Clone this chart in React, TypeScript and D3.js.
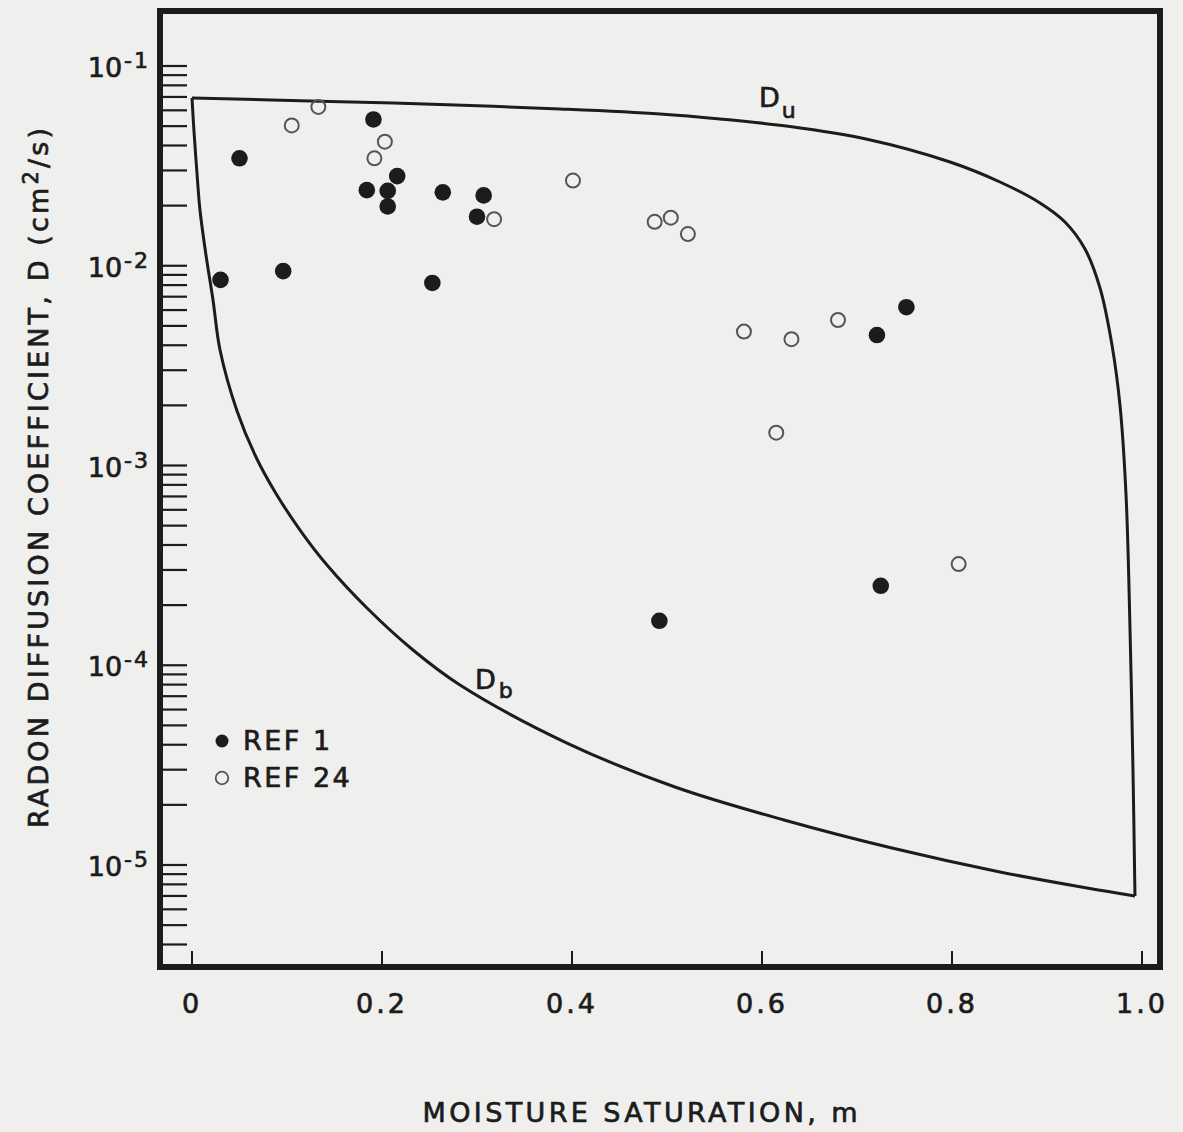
import React from "react";
import * as d3 from "d3";

// REF 1 (filled circles)
const ref1M = [0.050, 0.030, 0.096, 0.191, 0.216, 0.184, 0.206, 0.206, 0.264, 0.253, 0.307, 0.300, 0.752, 0.721, 0.725, 0.492];
const ref1D = [0.0345, 0.0085, 0.0094, 0.054, 0.0281, 0.0239, 0.0237, 0.0198, 0.0233, 0.0082, 0.0225, 0.0176, 0.0062, 0.0045, 0.00025, 0.000167];

// REF 24 (open circles)
const ref24M = [0.105, 0.133, 0.203, 0.192, 0.318, 0.401, 0.487, 0.504, 0.522, 0.581, 0.631, 0.680, 0.615, 0.807];
const ref24D = [0.0504, 0.0624, 0.0418, 0.0345, 0.0171, 0.0267, 0.0166, 0.0174, 0.0144, 0.00468, 0.00429, 0.00535, 0.00146, 0.000321];

// Upper bound curve Du
const duM = [0, 0.1453, 0.2611, 0.3874, 0.4926, 0.5558, 0.6295, 0.7095, 0.7979, 0.8505, 0.8926, 0.9189, 0.9400, 0.9558, 0.9684, 0.9768, 0.9832, 0.9874, 0.9905, 0.9926];
const duD = [0.0692, 0.06645, 0.06419, 0.06091, 0.05751, 0.05430, 0.04979, 0.04310, 0.03307, 0.02626, 0.02062, 0.01656, 0.01213, 0.007736, 0.004012, 0.002009, 0.0007116, 0.0001502, 0.0000299, 0.000006997];

// Lower bound curve Db
const dbM = [0, 0.002, 0.005, 0.0084, 0.0147, 0.0221, 0.0295, 0.0474, 0.0663, 0.0874, 0.1137, 0.1421, 0.1842, 0.2326, 0.2821, 0.3947, 0.5084, 0.6232, 0.7368, 0.8505, 0.9421, 0.9926];
const dbD = [0.0692, 0.04781, 0.03015, 0.01901, 0.01132, 0.00674, 0.003786, 0.001874, 0.001129, 0.000737, 0.0004754, 0.0003176, 0.0001934, 0.0001192, 0.00007962, 0.0000408, 0.00002458, 0.0000168, 0.00001216, 0.000009226, 0.000007673, 0.000006997];

const xTicks = [0, 0.2, 0.4, 0.6, 0.8, 1.0];
const xTickLabels = ["0", "0.2", "0.4", "0.6", "0.8", "1.0"];
const yDecadeExponents = [-1, -2, -3, -4, -5];
const legendLabels = ["REF 1", "REF 24"];

const W = 1183;
const H = 1132;
const frame = { left: 160, right: 1160, top: 11, bottom: 967 };
const FONT = "'DejaVu Sans', 'Liberation Sans', sans-serif";
const INK = "#1c1c1c";
const TXT = { fill: INK, stroke: INK, strokeWidth: 0.7 };

export default function App() {
  const x = d3.scaleLinear().domain([0, 1]).range([192, 1142]);
  const y = d3.scaleLog().domain([1e-1, 1e-5]).range([66, 865]);

  const yMinorTicks: number[] = [];
  for (let k = -6; k <= -1; k++) {
    for (let j = 1; j <= 9; j++) {
      const v = j * Math.pow(10, k);
      const py = y(v);
      if (py > frame.top + 4 && py < frame.bottom - 3) yMinorTicks.push(v);
    }
  }

  const line = d3
    .line<[number, number]>()
    .x((d) => x(d[0]))
    .y((d) => y(d[1]))
    .curve(d3.curveCatmullRom.alpha(0.5));

  const duPath = line(duM.map((m, i) => [m, duD[i]] as [number, number])) || "";
  const dbPath = line(dbM.map((m, i) => [m, dbD[i]] as [number, number])) || "";

  return (
    <svg
      width={W}
      height={H}
      style={{ position: "absolute", left: 0, top: 0, background: "#efefed" }}
      fontFamily={FONT}
    >
      <rect x={0} y={0} width={W} height={H} fill="#efefed" />

      {/* y ticks */}
      {yMinorTicks.map((v, i) => (
        <line
          key={"yt" + i}
          x1={frame.left}
          x2={frame.left + 27}
          y1={y(v)}
          y2={y(v)}
          stroke={INK}
          strokeWidth={2.2}
        />
      ))}

      {/* x ticks */}
      {xTicks.map((v, i) => (
        <line
          key={"xt" + i}
          x1={x(v)}
          x2={x(v)}
          y1={frame.bottom}
          y2={frame.bottom - 16}
          stroke={INK}
          strokeWidth={2}
        />
      ))}

      {/* curves */}
      <path d={duPath} fill="none" stroke={INK} strokeWidth={3} strokeLinejoin="round" />
      <path d={dbPath} fill="none" stroke={INK} strokeWidth={3} strokeLinejoin="round" />

      {/* frame */}
      <rect
        x={frame.left}
        y={frame.top}
        width={frame.right - frame.left}
        height={frame.bottom - frame.top}
        fill="none"
        stroke={INK}
        strokeWidth={6}
      />

      {/* points */}
      {ref24M.map((m, i) => (
        <circle key={"o" + i} cx={x(m)} cy={y(ref24D[i])} r={7} fill="none" stroke="#555" strokeWidth={2} />
      ))}
      {ref1M.map((m, i) => (
        <circle key={"f" + i} cx={x(m)} cy={y(ref1D[i])} r={8.3} fill={INK} />
      ))}

      {/* curve labels */}
      <text x={759} y={107} fontSize={27} {...TXT}>
        D
        <tspan fontSize={22} dy={11} dx={2}>u</tspan>
      </text>
      <text x={475} y={689} fontSize={27} {...TXT}>
        D
        <tspan fontSize={22} dy={9} dx={3}>b</tspan>
      </text>

      {/* legend */}
      <circle cx={222} cy={741} r={6.5} fill={INK} />
      <circle cx={222} cy={778} r={6.3} fill="none" stroke="#555" strokeWidth={1.8} />
      <text x={243} y={750} fontSize={27} letterSpacing={2.5} {...TXT}>{legendLabels[0]}</text>
      <text x={243} y={787} fontSize={27} letterSpacing={2.5} {...TXT}>{legendLabels[1]}</text>

      {/* x tick labels */}
      {xTicks.map((v, i) => (
        <text
          key={"xl" + i}
          x={x(v)}
          y={1013}
          fontSize={27}
          textAnchor="middle"
          letterSpacing={3}
          {...TXT}
        >
          {xTickLabels[i]}
        </text>
      ))}

      {/* y tick labels */}
      {yDecadeExponents.map((e, i) => (
        <text key={"yl" + i} x={150} y={y(Math.pow(10, e)) + 11} fontSize={27} textAnchor="end" {...TXT}>
          10
          <tspan fontSize={22} dy={-9} dx={2} letterSpacing={2}>{"-" + Math.abs(e)}</tspan>
        </text>
      ))}

      {/* axis titles */}
      <text
        x={640}
        y={1122}
        fontSize={27}
        textAnchor="middle"
        textLength={435}
        lengthAdjust="spacing"
        {...TXT}
      >
        MOISTURE SATURATION, m
      </text>
      <text
        transform="translate(48, 478) rotate(-90)"
        x={0}
        y={0}
        fontSize={27}
        textAnchor="middle"
        textLength={700}
        lengthAdjust="spacing"
        {...TXT}
      >
        RADON DIFFUSION COEFFICIENT, D (cm
        <tspan fontSize={21} dy={-10}>2</tspan>
        <tspan dy={10}>/s)</tspan>
      </text>
    </svg>
  );
}
